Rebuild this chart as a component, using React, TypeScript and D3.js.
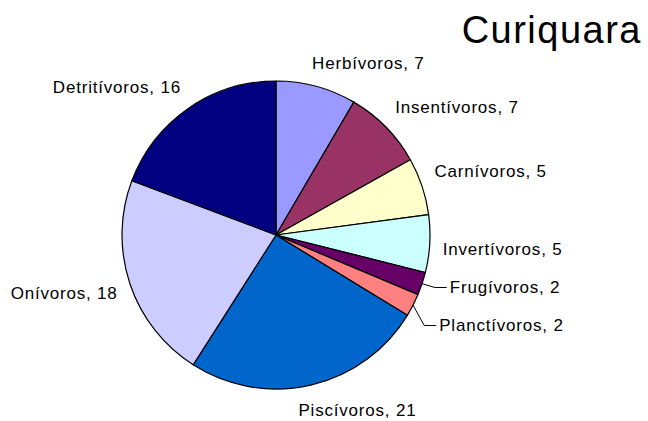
import React from "react";
import * as d3 from "d3";

const title = "Curiquara";
const categories = [
  "Herbívoros",
  "Insentívoros",
  "Carnívoros",
  "Invertívoros",
  "Frugívoros",
  "Planctívoros",
  "Piscívoros",
  "Onívoros",
  "Detritívoros",
];
const values = [7, 7, 5, 5, 2, 2, 21, 18, 16];
const colors = [
  "#9999FF",
  "#993366",
  "#FFFFCC",
  "#CCFFFF",
  "#660066",
  "#FF8080",
  "#0066CC",
  "#CCCCFF",
  "#000080",
];

const W = 648;
const H = 421;
const CX = 276;
const CY = 235;
const R = 154;
const FONT = "Liberation Sans, Arial, Helvetica, sans-serif";
const LABEL_SIZE = 17;
const LETTER_SPACING = 0.8;
const MIN_GAP = 38;

let ctx: CanvasRenderingContext2D | null = null;
function textWidth(t: string): number {
  if (!ctx) {
    const cv = document.createElement("canvas");
    ctx = cv.getContext("2d");
  }
  if (!ctx) return t.length * LABEL_SIZE * 0.5;
  ctx.font = `${LABEL_SIZE}px ${FONT}`;
  return ctx.measureText(t).width + LETTER_SPACING * t.length;
}

export default function App() {
  const data = categories.map((c, i) => ({ name: c, value: values[i], color: colors[i] }));
  const pie = d3
    .pie<any>()
    .sort(null)
    .value((d: any) => d.value)
    .startAngle(0)
    .endAngle(2 * Math.PI);
  const arcs = pie(data);
  const arcGen = d3.arc<any>().innerRadius(0).outerRadius(R);
  const total = d3.sum(values);

  const labels: any[] = arcs.map((a: any) => {
    const mid = (a.startAngle + a.endAngle) / 2;
    const s = Math.sin(mid);
    const c = -Math.cos(mid);
    const text = `${a.data.name}, ${a.data.value}`;
    const small = a.data.value / total < 0.03;
    if (small) {
      const lr = R + 26;
      return {
        text,
        small,
        ax: CX + lr * s,
        ay: CY + lr * c,
        px: CX + R * s,
        py: CY + R * c,
      };
    }
    const lr = R + 13;
    const qx = CX + lr * s;
    const qy = CY + lr * c;
    const w = textWidth(text);
    const centerPull = (w / 2) * (1 - Math.min(1, 3.3 * Math.abs(s)));
    const xLeft = s >= 0 ? qx - centerPull : qx - w + centerPull;
    const y =
      c < 0 ? qy - 5 : qy + 11 + 8 * Math.max(0, (Math.abs(c) - 0.5) / 0.5);
    return { text, small, x: xLeft, y, anchor: "start" };
  });

  // spread small (leader-line) labels apart vertically
  const smalls = labels.filter((l) => l.small).sort((a, b) => a.ay - b.ay);
  if (smalls.length > 1) {
    const mean = d3.mean(smalls, (l: any) => l.ay) as number;
    const n = smalls.length;
    const span = Math.max(MIN_GAP * (n - 1), smalls[n - 1].ay - smalls[0].ay);
    smalls.forEach((l, i) => {
      l.ay = mean - span / 2 + (span * i) / (n - 1) + 2;
    });
  }
  labels.forEach((l) => {
    if (l.small) {
      l.x = l.ax + 3;
      l.y = l.ay + 6;
      l.anchor = "start";
      l.leader = `M${l.px},${l.py}L${l.ax - 12},${l.ay}L${l.ax},${l.ay}`;
    }
  });

  return (
    <svg
      width={W}
      height={H}
      style={{ position: "absolute", left: 0, top: 0, background: "#fff" }}
      fontFamily={FONT}
    >
      <rect x={0} y={0} width={W} height={H} fill="#fff" />
      <text
        x={642}
        y={43}
        textAnchor="end"
        fontSize={38}
        letterSpacing={1.5}
        fill="#000"
      >
        {title}
      </text>
      <g transform={`translate(${CX},${CY})`}>
        {arcs.map((a: any, i: number) => (
          <path
            key={i}
            d={arcGen(a) as string}
            fill={a.data.color}
            stroke="#000"
            strokeWidth={1.2}
            strokeLinejoin="round"
          />
        ))}
      </g>
      {labels.map((l, i) =>
        l.leader ? (
          <path key={"l" + i} d={l.leader} fill="none" stroke="#000" strokeWidth={1} />
        ) : null
      )}
      {labels.map((l, i) => (
        <text
          key={i}
          x={l.x}
          y={l.y}
          textAnchor={l.anchor}
          fontSize={LABEL_SIZE}
          letterSpacing={LETTER_SPACING}
          fill="#000"
        >
          {l.text}
        </text>
      ))}
    </svg>
  );
}
